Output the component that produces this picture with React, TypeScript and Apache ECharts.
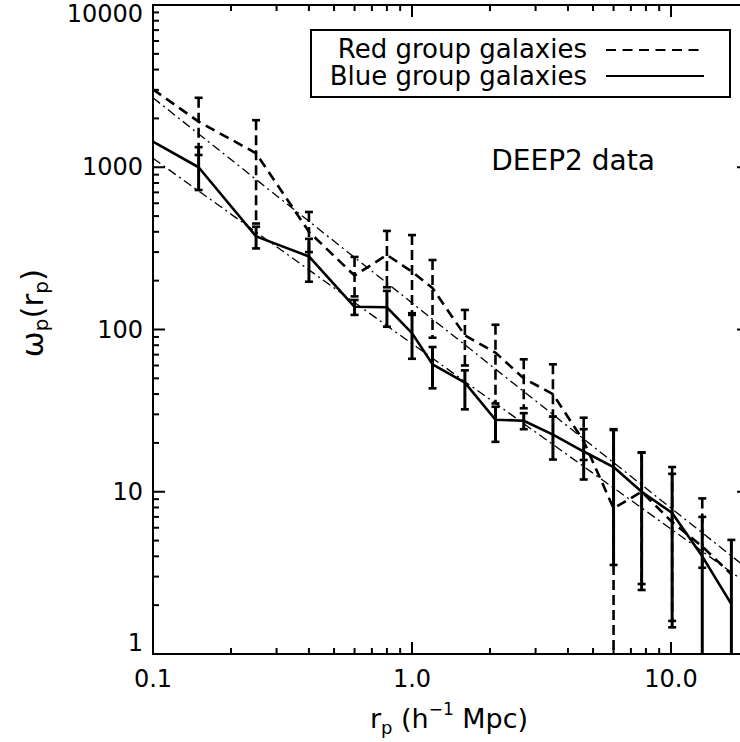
import React, { useEffect, useRef } from 'react';
import * as echarts from 'echarts';

// projected separation r_p (h^-1 Mpc)
const rp = [0.1, 0.15, 0.25, 0.4, 0.6, 0.8, 1.0, 1.2, 1.6, 2.1, 2.7, 3.5, 4.6, 6.0, 7.7, 10.1, 13.2, 17.1];

// Red group galaxies (dashed)
const redW = [3020, 1910, 1220, 400, 215, 288, 227, 180, 92, 72, 50, 40, 20.5, 7.9, 10, 6.5, 4.6, 3.1];
const redHigh = [null, 2680, 1950, 530, 280, 405, 382, 268, 132, 107, 65.5, 61, 28.6, 24, 17.5, 14.2, 9.1, null];
const redLow = [null, 1190, 450, 300, 160, 182, 126, 89, 60, 35, 32.7, 29, 15.7, 0.3, 2.7, 1.6, 3.4, null];

// Blue group galaxies (solid)
const blueW = [1440, 1000, 375, 282, 138, 137, 95, 61, 47, 27.8, 27.4, 22.5, 17.7, 14.2, 10, 7.4, 4.0, 2.03];
const blueHigh = [null, 1330, 430, 362, 152, 173, 123, 78, 56, 33.4, 30.5, 29, 24.3, 24.3, 17.4, 12.9, 7.0, 5.05];
const blueLow = [null, 724, 316, 197, 123, 104, 66, 43.4, 32.2, 20.3, 24.3, 15.8, 11.9, 3.54, 2.48, 1.46, 0.3, 0.3];

// power-law fits (dash-dot), end points
const redFitX = [0.1, 20];
const redFitW = [2680, 3.3];
const blueFitX = [0.1, 20];
const blueFitW = [1135, 2.67];

// axis ticks
const xMajorTicks = [0.1, 1, 10];
const xMinorTicks = [0.2, 0.3, 0.4, 0.5, 0.6, 0.7, 0.8, 0.9, 2, 3, 4, 5, 6, 7, 8, 9, 20];
const yMajorTicks = [1, 10, 100, 1000, 10000];
const yMinorTicks = [2, 3, 4, 5, 6, 7, 8, 9, 20, 30, 40, 50, 60, 70, 80, 90, 200, 300, 400, 500, 600, 700, 800, 900, 2000, 3000, 4000, 5000, 6000, 7000, 8000, 9000];

const FONT = 'DejaVu Sans';
const W = 760; // chart canvas is wider than the 740px window: the right frame lies just outside the picture
const H = 742;

function errorBarSeries(lo: (number | null)[], hi: (number | null)[], dashed: boolean) {
  const data: number[][] = [];
  rp.forEach((x, i) => {
    const l = lo[i];
    const h = hi[i];
    if (l != null && h != null) data.push([x, l, h]);
  });
  return {
    type: 'custom',
    silent: true,
    z: 3,
    encode: { x: 0, y: [1, 2] },
    data,
    renderItem: (params: any, api: any) => {
      const cs = params.coordSys;
      const x = api.value(0);
      const pl = api.coord([x, api.value(1)]);
      const ph = api.coord([x, api.value(2)]);
      const px = pl[0];
      const yTop = Math.max(ph[1], cs.y);
      const yBot = Math.min(pl[1], cs.y + cs.height);
      const style: any = { stroke: '#000', lineWidth: dashed ? 2.6 : 3 };
      if (dashed) style.lineDash = [10, 5];
      const capStyle = { stroke: '#000', lineWidth: 2.6 };
      const children: any[] = [
        { type: 'line', shape: { x1: px, y1: yTop, x2: px, y2: yBot }, style },
      ];
      if (ph[1] >= cs.y) children.push({ type: 'line', shape: { x1: px - 4, y1: ph[1], x2: px + 4, y2: ph[1] }, style: capStyle });
      if (pl[1] <= cs.y + cs.height) children.push({ type: 'line', shape: { x1: px - 4, y1: pl[1], x2: px + 4, y2: pl[1] }, style: capStyle });
      return { type: 'group', children };
    },
  };
}

function xTickSeries(ticks: number[], len: number) {
  return {
    type: 'custom',
    silent: true,
    z: 5,
    encode: { x: 0, y: 1 },
    data: ticks.map((v) => [v, 1]),
    renderItem: (params: any, api: any) => {
      const cs = params.coordSys;
      const p = api.coord([api.value(0), 1]);
      const st = { stroke: '#000', lineWidth: 2 };
      return {
        type: 'group',
        children: [
          { type: 'line', shape: { x1: p[0], y1: cs.y + cs.height, x2: p[0], y2: cs.y + cs.height - len }, style: st },
          { type: 'line', shape: { x1: p[0], y1: cs.y, x2: p[0], y2: cs.y + len }, style: st },
        ],
      };
    },
  };
}

function yTickSeries(ticks: number[], len: number) {
  return {
    type: 'custom',
    silent: true,
    z: 5,
    encode: { x: 0, y: 1 },
    data: ticks.map((v) => [1, v]),
    renderItem: (params: any, api: any) => {
      const cs = params.coordSys;
      const p = api.coord([1, api.value(1)]);
      const st = { stroke: '#000', lineWidth: 2 };
      return {
        type: 'group',
        children: [
          { type: 'line', shape: { x1: cs.x, y1: p[1], x2: cs.x + len, y2: p[1] }, style: st },
          { type: 'line', shape: { x1: cs.x + cs.width, y1: p[1], x2: cs.x + cs.width - len, y2: p[1] }, style: st },
        ],
      };
    },
  };
}

function isDecade(v: number) {
  const l = Math.log10(v);
  return Math.abs(l - Math.round(l)) < 1e-6;
}

function yAxisFor(show: (v: number) => boolean, vAlign: string, lineHeight?: number, padding?: number[]) {
  return {
    type: 'log',
    logBase: 10,
    min: 1,
    max: 10000,
    position: 'left',
    axisLine: { show: false },
    axisTick: { show: false },
    splitLine: { show: false },
    minorTick: { show: false },
    axisLabel: {
      fontSize: 24,
      fontFamily: FONT,
      color: '#000',
      margin: 10,
      verticalAlign: vAlign,
      lineHeight,
      padding,
      showMinLabel: true,
      showMaxLabel: true,
      formatter: (v: number) => (isDecade(v) && show(Math.round(v)) ? String(Math.round(v)) : ''),
    },
  };
}

export default function App() {
  const ref = useRef<HTMLDivElement>(null);
  useEffect(() => {
    const chart = echarts.init(ref.current!, null, { renderer: 'svg' });
    const option: any = {
      animation: false,
      backgroundColor: '#fff',
      grid: { left: 153, right: 11, top: 5, bottom: 88, show: true, borderColor: '#000', borderWidth: 2, backgroundColor: 'transparent' },
      xAxis: {
        type: 'log',
        logBase: 10,
        min: 0.1,
        max: 20,
        axisLine: { show: false },
        axisTick: { show: false },
        splitLine: { show: false },
        minorTick: { show: false },
        axisLabel: {
          fontSize: 24,
          fontFamily: FONT,
          color: '#000',
          margin: 13,
          showMinLabel: true,
          showMaxLabel: true,
          formatter: (v: number) => (isDecade(v) ? v.toFixed(1) : ''),
        },
      },
      yAxis: [
        yAxisFor((v) => v > 1 && v < 10000, 'middle', 26, [7, 0, 0, 0]),
        yAxisFor((v) => v === 10000, 'top', 18),
        yAxisFor((v) => v === 1, 'bottom', 22),
      ],
      series: [
        errorBarSeries(redLow, redHigh, true),
        errorBarSeries(blueLow, blueHigh, false),
        {
          name: 'Red group galaxies',
          type: 'line',
          data: rp.map((x, i) => [x, redW[i]]),
          showSymbol: false,
          z: 4,
          lineStyle: { color: '#000', width: 2.6, type: [10, 6] },
        },
        {
          name: 'Blue group galaxies',
          type: 'line',
          data: rp.map((x, i) => [x, blueW[i]]),
          showSymbol: false,
          z: 4,
          lineStyle: { color: '#000', width: 2.6, type: 'solid' },
        },
        {
          name: 'Red fit',
          type: 'line',
          data: redFitX.map((x, i) => [x, redFitW[i]]),
          showSymbol: false,
          z: 4,
          lineStyle: { color: '#000', width: 1.3, type: [9, 4, 2, 4] },
        },
        {
          name: 'Blue fit',
          type: 'line',
          data: blueFitX.map((x, i) => [x, blueFitW[i]]),
          showSymbol: false,
          z: 4,
          lineStyle: { color: '#000', width: 1.3, type: [9, 4, 2, 4] },
        },
        xTickSeries(xMajorTicks, 12),
        xTickSeries(xMinorTicks, 6),
        yTickSeries(yMajorTicks, 12),
        yTickSeries(yMinorTicks, 6),
      ],
      graphic: [
        {
          type: 'rect',
          z: 10,
          shape: { x: 311, y: 30, width: 419, height: 67 },
          style: { fill: '#fff', stroke: '#000', lineWidth: 2 },
        },
        {
          type: 'text',
          z: 11,
          x: 587,
          y: 49,
          style: { text: 'Red group galaxies', fontSize: 26, fontFamily: FONT, fill: '#000', align: 'right', verticalAlign: 'middle' },
        },
        {
          type: 'text',
          z: 11,
          x: 587,
          y: 76,
          style: { text: 'Blue group galaxies', fontSize: 26, fontFamily: FONT, fill: '#000', align: 'right', verticalAlign: 'middle' },
        },
        {
          type: 'line',
          z: 11,
          shape: { x1: 606, y1: 50, x2: 704, y2: 50 },
          style: { stroke: '#000', lineWidth: 2, lineDash: [10, 6.5] },
        },
        {
          type: 'line',
          z: 11,
          shape: { x1: 606, y1: 76, x2: 704, y2: 76 },
          style: { stroke: '#000', lineWidth: 2 },
        },
        {
          type: 'text',
          z: 11,
          x: 573,
          y: 160,
          style: { text: 'DEEP2 data', fontSize: 28, fontFamily: FONT, fill: '#000', align: 'center', verticalAlign: 'middle' },
        },
        {
          type: 'text',
          z: 11,
          x: 449,
          y: 718,
          style: {
            text: '{a|r}{s|p}{a| (h}{u|−1}{a| Mpc)}',
            align: 'center',
            verticalAlign: 'middle',
            rich: {
              a: { fontSize: 27, fontFamily: FONT, fill: '#000', lineHeight: 36, verticalAlign: 'middle' },
              s: { fontSize: 18, fontFamily: FONT, fill: '#000', verticalAlign: 'bottom' },
              u: { fontSize: 17, fontFamily: FONT, fill: '#000', verticalAlign: 'top' },
            },
          },
        },
        {
          type: 'text',
          z: 11,
          x: 32,
          y: 313,
          rotation: Math.PI / 2,
          style: {
            text: '{a|ω}{s|p}{a|(r}{s|p}{a|)}',
            align: 'center',
            verticalAlign: 'middle',
            rich: {
              a: { fontSize: 31, fontFamily: FONT, fill: '#000', lineHeight: 38, verticalAlign: 'middle' },
              s: { fontSize: 20, fontFamily: FONT, fill: '#000', verticalAlign: 'bottom' },
            },
          },
        },
      ],
    };
    chart.setOption(option);
    return () => chart.dispose();
  }, []);
  return (
    <div
      ref={ref}
      style={{ position: 'fixed', left: 0, top: 0, width: W, height: H, background: '#fff' }}
    />
  );
}
